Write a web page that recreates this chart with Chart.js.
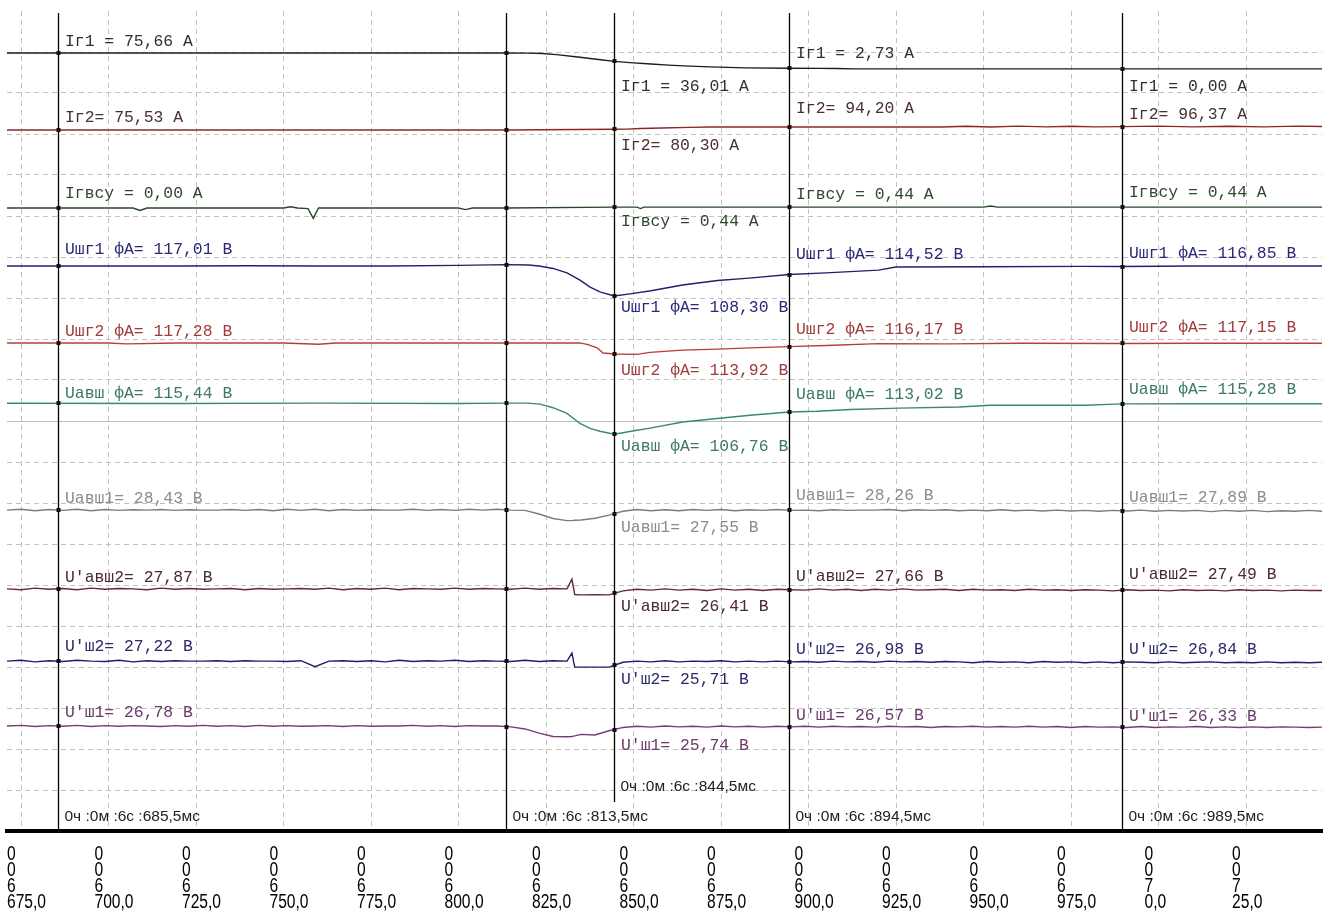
<!DOCTYPE html>
<html lang="ru">
<head>
<meta charset="utf-8">
<title>Осциллограмма</title>
<script src="https://cdn.jsdelivr.net/npm/chart.js@4.4.1/dist/chart.umd.min.js"></script>
<style>
  html, body { margin: 0; padding: 0; background: #fff; }
  #wrap { width: 1328px; height: 913px; }
</style>
</head>
<body>
<div id="wrap"><canvas id="osc" width="1328" height="913"></canvas></div>
<script>
// ось времени, мс (после 1000 идёт 7 с)
const tickValues = [675, 700, 725, 750, 775, 800, 825, 850, 875, 900, 925, 950, 975, 1000, 1025];
const cursorTimes = [685.5, 813.5, 844.5, 894.5, 989.5];

// каналы
const names = ["Iг1 = ", "Iг2= ", "Iгвсу = ", "Uшг1 фА= ", "Uшг2 фА= ", "Uавш фА= ", "Uавш1= ", "U'авш2= ", "U'ш2= ", "U'ш1= "];
const units = ["А", "А", "А", "В", "В", "В", "В", "В", "В", "В"];

// значения на курсорах (подписи)
const lbl685 = [75.66, 75.53, 0.00, 117.01, 117.28, 115.44, 28.43, 27.87, 27.22, 26.78];
const lbl844 = [36.01, 80.30, 0.44, 108.30, 113.92, 106.76, 27.55, 26.41, 25.71, 25.74];
const lbl894 = [2.73, 94.20, 0.44, 114.52, 116.17, 113.02, 28.26, 27.66, 26.98, 26.57];
const lbl989 = [0.00, 96.37, 0.44, 116.85, 117.15, 115.28, 27.89, 27.49, 26.84, 26.33];

// Iг1
const tIg1 = [671, 700, 740, 780, 813.5, 820, 824, 828, 834.7, 840, 844.5, 849, 855, 860, 866, 872, 882, 894.5, 903, 908, 913, 950, 992, 1000, 1030, 1047];
const vIg1 = [75.7, 75.66, 75.7, 75.66, 75.66, 75.3, 73.5, 68, 55.7, 45, 36.01, 30, 23, 18, 13, 9.5, 5, 2.73, 2.6, 1.5, 0, 0, 0.2, 0, 0.3, 0];

// Iг2
const tIg2 = [671, 720, 760, 800, 813.5, 844.5, 848, 852, 858, 866, 872, 894.5, 920, 938, 945, 952, 960, 968, 975, 982, 989.5, 1000, 1010, 1020, 1030, 1040, 1047];
const vIg2 = [75.5, 75.6, 75.5, 75.5, 75.53, 80.30, 81, 85, 88, 92, 94, 94.20, 94.5, 94.3, 99, 94.5, 100, 95, 99, 95, 96.37, 100, 95, 99, 95, 100, 97];

// Iгвсу
const tIgvsu = [671, 707, 709, 711, 750, 752, 754, 757, 758.5, 760, 800, 802, 804, 813.5, 844.5, 851, 852, 853, 950, 952, 954, 1047];
const vIgvsu = [0, 0, -1.2, 0, 0, 0.6, 0, -0.3, -5.2, 0, 0, -0.8, 0, 0, 0.44, 0.44, -0.3, 0.44, 0.44, 1.0, 0.44, 0.44];

// Uшг1 фА
const tUshg1 = [671, 700, 720, 740, 760, 780, 800, 813.5, 820, 823, 827, 831, 834.7, 837.6, 840.4, 844.5, 849, 855, 864, 874, 883, 894.5, 905, 920, 925, 950, 978, 989.5, 1010, 1047];
const vUshg1 = [117.0, 117.0, 117.0, 117.1, 117.0, 117.0, 117.2, 117.4, 117.3, 117.0, 116.3, 115.0, 112.9, 110.9, 109.5, 108.30, 108.9, 109.8, 111.5, 112.8, 113.5, 114.52, 115.0, 115.8, 116.7, 116.8, 116.9, 116.85, 117.0, 117.0];

// Uшг2 фА
const tUshg2 = [671, 700, 705, 720, 750, 760, 765, 800, 813.5, 834.7, 837, 839.6, 841.3, 844.5, 851, 854.7, 864, 874, 883.3, 894.5, 905, 920, 940, 960, 989.5, 1010, 1047];
const vUshg2 = [117.3, 117.3, 117.0, 117.3, 117.3, 116.9, 117.3, 117.3, 117.28, 117.3, 116.8, 115.8, 114.2, 113.92, 113.8, 114.4, 115.1, 115.4, 115.8, 116.17, 116.5, 117.1, 117.0, 117.2, 117.15, 117.2, 117.2];

// Uавш фА
const tUavsh = [671, 720, 760, 800, 813.5, 819.6, 823.3, 827, 831, 834.7, 837.6, 840.4, 844.5, 851, 854.7, 864.1, 873.9, 883.3, 894.5, 902.4, 911.9, 926, 943, 952, 979, 989.5, 1010, 1047];
const vUavsh = [115.44, 115.4, 115.5, 115.4, 115.5, 115.5, 115.2, 114.2, 112.6, 109.8, 108.4, 107.6, 106.76, 107.9, 108.5, 110.2, 111.2, 112.1, 113.02, 113.2, 113.7, 114.1, 114.4, 114.9, 114.9, 115.28, 115.3, 115.3];

// общая сетка времени для шумных каналов
const tFine = [
  671, 675, 679, 683, 687, 691, 695, 699, 703, 707,
  711, 715, 719, 723, 727, 731, 735, 739, 743, 747,
  751, 755, 759, 763, 767, 771, 775, 779, 783, 787,
  791, 795, 799, 803, 807, 811, 815, 819, 823, 827,
  831, 832.4, 833.2, 835, 839, 843, 847, 851, 855, 859,
  863, 867, 871, 875, 879, 883, 887, 891, 895, 899,
  903, 907, 911, 915, 919, 923, 927, 931, 935, 939,
  943, 947, 951, 955, 959, 963, 967, 971, 975, 979,
  983, 987, 991, 995, 999, 1003, 1007, 1011, 1015, 1019,
  1023, 1027, 1031, 1035, 1039, 1043, 1047
];

// Uавш1
const vUavsh1 = [
  28.4, 28.7, 28.2, 28.6, 28.3, 28.7, 28.2, 28.6, 28.3, 28.5,
  28.4, 28.6, 28.3, 28.5, 28.4, 28.4, 28.6, 28.3, 28.6, 28.2,
  28.7, 28.3, 28.7, 28.2, 28.6, 28.3, 28.5, 28.4, 28.4, 28.7,
  28.3, 28.6, 28.3, 28.7, 28.4, 28.7, 28.4, 28.3, 27.1, 25.6,
  24.9, 24.9, 25.0, 25.1, 25.7, 26.7, 28.0, 28.6, 28.2, 28.5,
  28.2, 28.6, 28.3, 28.6, 28.2, 28.5, 28.3, 28.6, 28.3, 28.4,
  28.2, 28.5, 28.3, 28.4, 28.4, 28.6, 28.2, 28.5, 28.3, 28.5,
  28.2, 28.4, 28.2, 28.5, 28.2, 28.4, 28.1, 28.4, 28.1, 28.3,
  28.0, 28.3, 28.1, 28.4, 28.0, 28.3, 28.1, 28.3, 27.9, 28.3,
  28.0, 28.3, 27.9, 28.2, 28.0, 28.3, 28.0
];

// U'авш2
const vUavsh2 = [
  27.9, 27.7, 28.1, 27.8, 28.0, 27.7, 28.1, 27.8, 28.0, 27.9,
  27.7, 28.1, 27.8, 28.0, 27.8, 27.9, 28.0, 27.7, 28.0, 27.8,
  27.9, 28.0, 27.8, 28.1, 27.7, 28.0, 27.8, 28.1, 27.7, 28.0,
  27.9, 27.8, 28.1, 27.8, 28.0, 27.9, 27.8, 28.1, 27.8, 28.0,
  27.9, 30.3, 26.5, 26.4, 26.45, 26.4, 27.4, 27.8, 27.6, 27.9,
  27.6, 27.8, 27.5, 27.9, 27.6, 27.8, 27.5, 27.8, 27.7, 27.6,
  27.9, 27.6, 27.8, 27.5, 27.8, 27.6, 27.9, 27.6, 27.7, 27.8,
  27.5, 27.8, 27.6, 27.7, 27.5, 27.8, 27.6, 27.7, 27.5, 27.7,
  27.6, 27.4, 27.7, 27.5, 27.6, 27.4, 27.7, 27.5, 27.6, 27.4,
  27.7, 27.5, 27.6, 27.4, 27.6, 27.5, 27.5
];

// U'ш2
const vUsh2 = [
  27.2, 27.4, 27.0, 27.3, 27.1, 27.4, 27.2, 27.1, 27.4, 27.0,
  27.3, 27.1, 27.3, 27.2, 27.2, 27.3, 27.1, 27.3, 27.2, 27.2,
  27.1, 27.3, 25.8, 27.2, 27.3, 27.1, 27.3, 27.0, 27.4, 27.1,
  27.3, 27.2, 27.4, 27.1, 27.3, 27.2, 27.1, 27.4, 27.1, 27.3,
  27.2, 29.2, 25.7, 25.7, 25.7, 25.7, 26.9, 27.2, 27.0, 27.3,
  27.0, 27.2, 27.1, 27.3, 27.0, 27.2, 27.0, 27.2, 27.0, 27.1,
  26.9, 27.2, 27.0, 27.1, 26.9, 27.2, 27.0, 27.1, 26.9, 27.1,
  27.0, 26.8, 27.1, 26.9, 27.0, 26.8, 27.1, 26.9, 27.0, 26.8,
  27.0, 26.8, 27.0, 26.9, 26.8, 27.0, 26.8, 26.9, 27.0, 26.8,
  26.9, 26.8, 27.0, 26.8, 26.9, 26.8, 26.9
];

// U'ш1
const vUsh1 = [
  26.8, 27.0, 26.6, 26.9, 26.7, 27.0, 26.6, 26.9, 26.7, 26.9,
  26.8, 26.6, 26.9, 26.7, 27.0, 26.7, 26.9, 26.6, 27.0, 26.7,
  26.9, 26.7, 26.8, 26.9, 26.6, 26.9, 26.7, 26.8, 26.8, 27.0,
  26.7, 26.9, 26.6, 26.9, 26.8, 26.8, 26.5, 25.8, 24.4, 23.3,
  23.2, 23.3, 23.5, 24.0, 23.8, 25.2, 26.3, 26.7, 26.4, 26.8,
  26.5, 26.7, 26.4, 26.8, 26.5, 26.7, 26.4, 26.7, 26.5, 26.7,
  26.4, 26.7, 26.5, 26.6, 26.4, 26.7, 26.5, 26.6, 26.3, 26.6,
  26.5, 26.7, 26.4, 26.6, 26.4, 26.7, 26.4, 26.6, 26.3, 26.6,
  26.4, 26.5, 26.3, 26.6, 26.3, 26.5, 26.4, 26.6, 26.3, 26.5,
  26.3, 26.5, 26.3, 26.5, 26.4, 26.3, 26.4
];

const series = [
  [tIg1, vIg1], [tIg2, vIg2], [tIgvsu, vIgvsu], [tUshg1, vUshg1], [tUshg2, vUshg2],
  [tUavsh, vUavsh], [tFine, vUavsh1], [tFine, vUavsh2], [tFine, vUsh2], [tFine, vUsh1]
];

// оформление каналов: положение опорного значения (px от верха поля) и масштаб (px на единицу)
const PLOT_H = 820;
const chLevel = [42, 119, 197, 255, 332, 392.3, 499, 578, 650, 715];
const chScale = [0.21, 0.16, 2, 3.44, 3.27, 3.57, 3, 4, 4, 3];
const lineColors = ["#2a1818", "#8a2828", "#284828", "#20206e", "#b83c3c", "#3a8a68", "#7c7c7c", "#6a2448", "#1e1e6e", "#7a3a7a"];
const textColors = ["#303030", "#4a3030", "#2f472f", "#2a2a78", "#a03c3c", "#3c7a60", "#8c8c8c", "#4a2838", "#2a2a6a", "#6a3a6a"];

// подписи у курсоров: смещение по вертикали от значения, px
const cursorLabels = [
  { t: 685.5, vals: lbl685, dy: [-11, -12, -14, -16, -11, -10, -11, -11, -14, -13] },
  { t: 844.5, vals: lbl844, dy: [25, 16, 15, 12, 17, 12, 15.5, 12, 13, 16.5] },
  { t: 894.5, vals: lbl894, dy: [-15, -18, -12, -20, -16.5, -17.5, -15, -13.5, -12.5, -10.5] },
  { t: 989.5, vals: lbl989, dy: [18, -12, -14, -13, -16, -14, -14, -16, -13, -11] }
];
const cursorBottomGap = [0, 0, 29, 0, 0];
const timeLabelDy = [-14, -14, -44, -14, -14];

const fmt2 = (v) => v.toFixed(2).replace(".", ",");
const fmt1 = (v) => v.toFixed(1).replace(".", ",");

function tickLines(v) {
  const sec = v >= 1000 ? 7 : 6;
  const ms = v >= 1000 ? v - 1000 : v;
  return ["0", "0", String(sec), fmt1(ms)];
}

function valueAt(ts, vs, t) {
  for (let i = 1; i < ts.length; i++) {
    if (ts[i] >= t) {
      const k = (t - ts[i - 1]) / (ts[i] - ts[i - 1]);
      return vs[i - 1] + k * (vs[i] - vs[i - 1]);
    }
  }
  return vs[vs.length - 1];
}

const scales = {
  x: {
    type: "linear",
    min: 671,
    max: 1046.7,
    afterBuildTicks: (axis) => { axis.ticks = tickValues.map((v) => ({ value: v })); },
    afterFit: (axis) => { axis.height = 82; },
    grid: { color: "#c2c2c2", lineWidth: 1, drawTicks: false },
    border: { display: true, color: "#000", width: 4, dash: [5, 4] },
    // подписи рисуются узким шрифтом в плагине по тикам этой шкалы
    ticks: { display: false, autoSkip: false }
  },
  yGrid: {
    type: "linear",
    position: "left",
    min: 0,
    max: 20,
    afterFit: (axis) => { axis.width = 0; },
    ticks: { display: false, stepSize: 1 },
    grid: {
      drawTicks: false,
      lineWidth: 1,
      color: (ctx) => {
        const v = ctx.tick ? ctx.tick.value : -1;
        if (v === 0 || v === 20) return "rgba(0,0,0,0)";
        return v === 10 ? "#bdbdbd" : "#c2c2c2";
      }
    },
    border: { display: false, dash: (ctx) => (ctx.tick && ctx.tick.value === 10 ? [] : [5, 4]) }
  }
};

const datasets = series.map(([ts, vs], i) => {
  const ref = lbl685[i];
  scales["c" + i] = {
    type: "linear",
    display: false,
    min: ref - (PLOT_H - chLevel[i]) / chScale[i],
    max: ref + chLevel[i] / chScale[i]
  };
  return {
    label: names[i].replace(/[= ]+$/, ""),
    data: ts.map((t, k) => ({ x: t, y: vs[k] })),
    yAxisID: "c" + i,
    borderColor: lineColors[i],
    borderWidth: 1.4,
    pointRadius: 0,
    tension: 0,
    fill: false
  };
});

const cursorPlugin = {
  id: "cursors",
  afterDatasetsDraw(chart) {
    const { ctx, chartArea: area } = chart;
    const xs = chart.scales.x;
    ctx.save();

    // подписи оси времени (узкий шрифт)
    ctx.fillStyle = "#000";
    ctx.font = '20px "Liberation Sans", Arial, sans-serif';
    ctx.textAlign = "left";
    ctx.textBaseline = "middle";
    xs.ticks.forEach((tk) => {
      const px = xs.getPixelForValue(tk.value) - 14;
      tickLines(tk.value).forEach((s, r) => {
        ctx.save();
        ctx.translate(px, area.bottom + 23 + 16 * r);
        ctx.scale(0.78, 1);
        ctx.fillText(s, 0, 0);
        ctx.restore();
      });
    });

    // курсоры
    cursorTimes.forEach((t, ci) => {
      const px = Math.round(xs.getPixelForValue(t)) + 0.5;
      ctx.strokeStyle = "#000";
      ctx.lineWidth = 1.3;
      ctx.beginPath();
      ctx.moveTo(px, area.top + 2);
      ctx.lineTo(px, area.bottom - cursorBottomGap[ci]);
      ctx.stroke();

      ctx.fillStyle = "#111";
      series.forEach(([ts, vs], i) => {
        const py = chart.scales["c" + i].getPixelForValue(valueAt(ts, vs, t));
        ctx.fillRect(px - 2, Math.round(py) - 2, 4, 4);
      });

      ctx.font = '15.5px "Liberation Sans", Arial, sans-serif';
      ctx.fillStyle = "#222";
      ctx.fillText("0ч :0м :6с :" + fmt1(t) + "мс", px + 6, area.bottom + timeLabelDy[ci]);
    });

    // значения каналов
    ctx.font = '16.4px "Liberation Mono", "DejaVu Sans Mono", monospace';
    cursorLabels.forEach((c) => {
      const px = Math.round(xs.getPixelForValue(c.t));
      c.vals.forEach((v, i) => {
        const py = chart.scales["c" + i].getPixelForValue(v) + c.dy[i];
        ctx.fillStyle = textColors[i];
        ctx.fillText(names[i] + fmt2(v) + " " + units[i], px + 7, py);
      });
    });
    ctx.restore();
  }
};

new Chart(document.getElementById("osc"), {
  type: "line",
  data: { datasets },
  options: {
    responsive: false,
    devicePixelRatio: 1,
    animation: false,
    events: [],
    layout: { padding: { left: 7, right: 6, top: 11, bottom: 0 } },
    scales,
    plugins: {
      legend: { display: false },
      tooltip: { enabled: false }
    }
  },
  plugins: [cursorPlugin]
});
</script>
</body>
</html>
